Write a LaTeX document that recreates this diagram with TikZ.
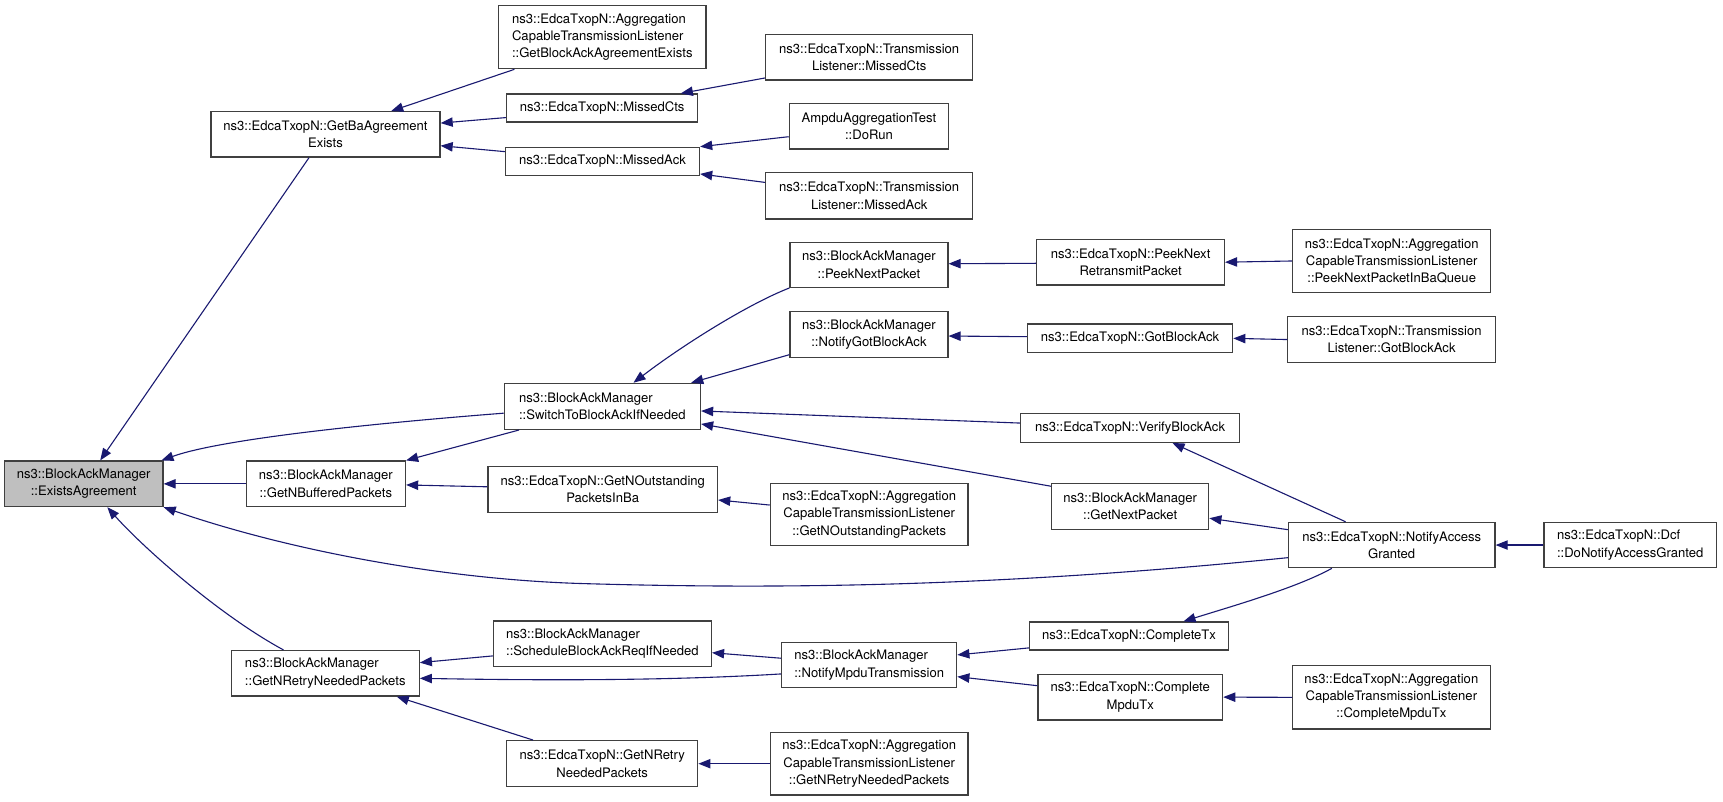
\documentclass[tikz,border=0pt]{standalone}
\usepackage{fontspec}
\setmainfont{TeX Gyre Heros}
\usetikzlibrary{arrows.meta}
\definecolor{edgec}{HTML}{191970}
\definecolor{boxc}{HTML}{404040}
\definecolor{curc}{HTML}{BFBFBF}
\begin{document}
\begin{tikzpicture}[x=1pt,y=-1pt,
  fn/.style={draw=boxc, line width=1.1pt, fill=white, inner sep=0pt, align=center,
    font=\fontsize{11.9}{15.7}\selectfont},
  fnl/.style={fn, align=left},
  cur/.style={fn, fill=curc},
  call/.style={draw=edgec, line width=1pt, -{Triangle[length=11pt,width=8.5pt]}},
]
\useasboundingbox[fill=white] (0,0) rectangle (1568,729);

\node[cur, minimum width=144.3pt, minimum height=41.5pt] (A) at (76.2,440.3) {ns3::BlockAckManager\\::ExistsAgreement};
\node[fn, minimum width=208.4pt, minimum height=41.3pt] (B) at (296.2,122.3) {ns3::EdcaTxopN::GetBaAgreement\\Exists};
\node[fnl, minimum width=188.8pt, minimum height=57.3pt] (C) at (548.1,33.9) {ns3::EdcaTxopN::Aggregation\\CapableTransmissionListener\\::GetBlockAckAgreementExists};
\node[fn, minimum width=174pt, minimum height=25.5pt] (D) at (548,98.3) {ns3::EdcaTxopN::MissedCts};
\node[fn, minimum width=176.6pt, minimum height=25.3pt] (E) at (548.3,146.7) {ns3::EdcaTxopN::MissedAck};
\node[fn, minimum width=188.5pt, minimum height=41.6pt] (F) at (791,52) {ns3::EdcaTxopN::Transmission\\Listener::MissedCts};
\node[fn, minimum width=145pt, minimum height=41.2pt] (G) at (790.8,115) {AmpduAggregationTest\\::DoRun};
\node[fn, minimum width=188.5pt, minimum height=42.3pt] (H) at (791,178.2) {ns3::EdcaTxopN::Transmission\\Listener::MissedAck};
\node[fnl, minimum width=178.5pt, minimum height=41.9pt] (I) at (548.2,369.8) {ns3::BlockAckManager\\::SwitchToBlockAckIfNeeded};
\node[fn, minimum width=145pt, minimum height=41.5pt] (J) at (296.5,440.3) {ns3::BlockAckManager\\::GetNBufferedPackets};
\node[fn, minimum width=209pt, minimum height=41.5pt] (K) at (548.5,445.5) {ns3::EdcaTxopN::GetNOutstanding\\PacketsInBa};
\node[fn, minimum width=180pt, minimum height=56.8pt] (L) at (791,468.2) {ns3::EdcaTxopN::Aggregation\\CapableTransmissionListener\\::GetNOutstandingPackets};
\node[fn, minimum width=143.7pt, minimum height=41pt] (M) at (790.8,241) {ns3::BlockAckManager\\::PeekNextPacket};
\node[fn, minimum width=143.7pt, minimum height=41.6pt] (N) at (790.8,304.4) {ns3::BlockAckManager\\::NotifyGotBlockAck};
\node[fn, minimum width=170.7pt, minimum height=41.6pt] (O) at (1028.9,238.6) {ns3::EdcaTxopN::PeekNext\\RetransmitPacket};
\node[fn, minimum width=180.3pt, minimum height=57.6pt] (P) at (1266.5,237.5) {ns3::EdcaTxopN::Aggregation\\CapableTransmissionListener\\::PeekNextPacketInBaQueue};
\node[fn, minimum width=186.8pt, minimum height=26.2pt] (Q) at (1028.4,307.9) {ns3::EdcaTxopN::GotBlockAck};
\node[fn, minimum width=188.8pt, minimum height=42pt] (R) at (1266.4,309) {ns3::EdcaTxopN::Transmission\\Listener::GotBlockAck};
\node[fn, minimum width=199.2pt, minimum height=26.5pt] (S) at (1028.4,389.3) {ns3::EdcaTxopN::VerifyBlockAck};
\node[fn, minimum width=143pt, minimum height=41.9pt] (T) at (1028.5,460.8) {ns3::BlockAckManager\\::GetNextPacket};
\node[fn, minimum width=188pt, minimum height=41.3pt] (U) at (1266.5,496) {ns3::EdcaTxopN::NotifyAccess\\Granted};
\node[fnl, minimum width=157pt, minimum height=41.3pt] (V) at (1483.5,496) {ns3::EdcaTxopN::Dcf\\::DoNotifyAccessGranted};
\node[fnl, minimum width=171pt, minimum height=41.4pt] (W) at (296,612.7) {ns3::BlockAckManager\\::GetNRetryNeededPackets};
\node[fnl, minimum width=198.4pt, minimum height=41.7pt] (X) at (548.2,585.9) {ns3::BlockAckManager\\::ScheduleBlockAckReqIfNeeded};
\node[fnl, minimum width=159.3pt, minimum height=41pt] (Y) at (791,605.3) {ns3::BlockAckManager\\::NotifyMpduTransmission};
\node[fn, minimum width=181pt, minimum height=25.5pt] (Z) at (1027.5,578.8) {ns3::EdcaTxopN::CompleteTx};
\node[fn, minimum width=168pt, minimum height=41.6pt] (AA) at (1028.6,634.4) {ns3::EdcaTxopN::Complete\\MpduTx};
\node[fn, minimum width=179.7pt, minimum height=57.6pt] (AB) at (1266.2,634.6) {ns3::EdcaTxopN::Aggregation\\CapableTransmissionListener\\::CompleteMpduTx};
\node[fn, minimum width=174pt, minimum height=42pt] (AC) at (548,695) {ns3::EdcaTxopN::GetNRetry\\NeededPackets};
\node[fn, minimum width=180pt, minimum height=57pt] (AD) at (791,695) {ns3::EdcaTxopN::Aggregation\\CapableTransmissionListener\\::GetNRetryNeededPackets};

\draw[call] ([xshift=-15pt]B.south) -- ([xshift=15pt]A.north);
\draw[call] ([xshift=15pt]C.south west) -- ([xshift=-45pt]B.north east);
\draw[call] ([yshift=-8.7pt]D.west) -- ([yshift=10.3pt]B.east);
\draw[call] ([yshift=8.7pt]E.west) -- ([yshift=-10.3pt]B.east);
\draw[call] ([yshift=2.4pt]F.south west) -- ([xshift=-16pt]D.north east);
\draw[call] ([yshift=-9.4pt]G.west) -- (E.north east);
\draw[call] ([yshift=12.2pt]H.west) -- ([yshift=1.6pt]E.south east);
\draw[call] ([yshift=-6.2pt]I.west) .. controls (330,386) and (200,400) .. ([xshift=-2pt]A.north east);
\draw[call] (J.west) -- (A.east);
\draw[call] ([yshift=-11.5pt]U.west) .. controls (900,535) and (700,536) .. (528,531) .. controls (400,527) and (260,500) .. (A.south east);
\draw[call] ([xshift=-38pt]W.north) .. controls (198,559) and (128,496) .. ([xshift=21.5pt]A.south);
\draw[call] ([xshift=14pt]I.south west) -- (J.north east);
\draw[call] ([yshift=2.5pt]K.west) -- ([yshift=-1pt]J.east);
\draw[call] ([yshift=8.6pt]L.west) -- ([yshift=-9.5pt]K.east);
\draw[call] (M.south west) .. controls (680,277) and (620,315) .. ([xshift=28.3pt]I.north);
\draw[call] ([yshift=3pt]N.south west) -- ([xshift=-9pt]I.north east);
\draw[call] ([yshift=4.3pt]S.west) -- ([yshift=-4.2pt]I.east);
\draw[call] ([yshift=-3.2pt]T.north west) -- ([yshift=5.5pt]I.south east);
\draw[call] ([yshift=-1pt]O.west) -- ([yshift=1pt]M.east);
\draw[call] (P.west) -- (O.east);
\draw[call] ([yshift=1.5pt]Q.west) -- ([yshift=-1.4pt]N.east);
\draw[call] (R.west) -- (Q.east);
\draw[call] ([xshift=-42pt]U.north) -- ([xshift=38.6pt]S.south);
\draw[call] ([yshift=14pt]U.west) -- ([yshift=-10.8pt]T.east);
\draw[call] (V.west) -- (U.east);
\draw[call] ([yshift=-11pt]X.west) -- ([yshift=9.7pt]W.east);
\draw[call] ([yshift=-8pt]Y.west) .. controls (600,620) and (480,619) .. ([yshift=-4.6pt]W.east);
\draw[call] ([xshift=24.6pt]AC.north west) -- ([xshift=-21pt]W.south east);
\draw[call] ([yshift=6.3pt]Y.west) -- ([yshift=-8.1pt]X.east);
\draw[call] ([yshift=2.5pt]Z.south west) -- ([yshift=9.3pt]Y.east);
\draw[call] ([yshift=10.4pt]AA.west) -- ([yshift=-10.5pt]Y.east);
\draw[call] ([xshift=-54.5pt]U.south) .. controls (1180,535) and (1120,552) .. ([xshift=49.5pt]Z.north);
\draw[call] (AB.west) -- (AA.east);
\draw[call] (AD.west) -- (AC.east);
\end{tikzpicture}
\end{document}
